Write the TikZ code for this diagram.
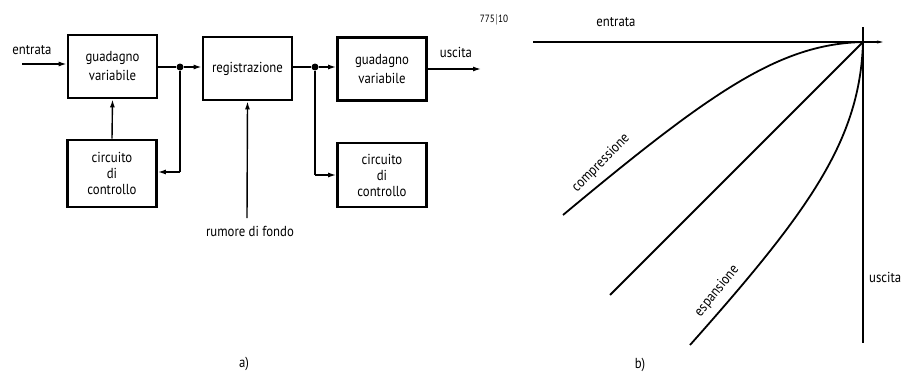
\documentclass[tikz,border=0pt]{standalone}
\usepackage{fontspec}
\setmainfont{PT Sans}[FakeStretch=0.88]
\usetikzlibrary{arrows.meta}
\begin{document}
\begin{tikzpicture}[x=1pt,y=-1pt,
  every node/.style={font=\fontsize{14.5}{16}\selectfont, inner sep=0pt},
  blk/.style={draw, line width=2.8pt, align=center, minimum width=89pt, minimum height=63pt},
  conn/.style={line width=1.4pt},
  arr/.style={conn, -{Latex[length=8pt,width=5pt]}},
  dot/.style={circle, fill, minimum size=7pt},
  curve/.style={line width=1.8pt},
  axis/.style={line width=1.2pt},
  lbl/.style={font=\fontsize{14.5}{16}\selectfont}
]
\useasboundingbox (0,0) rectangle (909,372);
% left diagram
\node[blk] (b1) at (112.5,66.5) {guadagno\\[3pt]variabile};
\node[blk] (b2) at (247.5,68.5) {registrazione};
\node[blk] (b3) at (382,69) {guadagno\\[3pt]variabile};
\node[blk, minimum height=67pt] (b4) at (112,173.5) {circuito\\di\\controllo};
\node[blk, minimum height=64pt] (b5) at (382,175) {circuito\\di\\controllo};

\node[dot] (d1) at (180,67) {};
\node[dot] (d2) at (315,67) {};
\coordinate (in) at (22,64);
\coordinate (out) at (481,69);
\coordinate (f1) at (180,172);
\coordinate (f2) at (315,175);
\coordinate (nz) at (247,218);

\draw[arr] (in) -- (b1.west |- in);
\draw[conn] (b1.east |- d1) -- (d1);
\draw[arr] (d1) -- (b2.west |- d1);
\draw[conn] (d1) -- (f1);
\draw[arr] (f1) -- (b4.east |- f1);
\draw[arr] (b4.north) -- (b1.south);
\draw[arr] (nz) -- (b2.south);
\draw[conn] (b2.east |- d2) -- (d2);
\draw[arr] (d2) -- (b3.west |- d2);
\draw[conn] (d2) -- (f2);
\draw[arr] (f2) -- (b5.west |- f2);
\draw[arr] (b3.east |- out) -- (out);

\node[lbl] (tin) at (32,50) {entrata};
\node[lbl] (tout) at (456,52) {uscita};
\node[lbl, anchor=north] (tnz) at (250,226) {rumore di fondo};
\node[lbl] (ta) at (244,364) {a)};
\node[font=\fontsize{10.5}{12}\selectfont] (num) at (494,20) {775$|$10};

% right diagram
\coordinate (O) at (863,42);
\coordinate (hx0) at (533,42);
\coordinate (hx1) at (883,42);
\coordinate (vy0) at (863,27);
\coordinate (vy1) at (863,343);
\coordinate (cE) at (563,215);
\coordinate (sE) at (610,295);
\coordinate (eE) at (690,345);
\draw[axis, -{Stealth[length=6pt,width=3pt]}] (hx0) -- (hx1);
\draw[axis] (vy0) -- (vy1);
\draw[curve] (O) .. controls (780,44) and (713,90) .. (cE);
\draw[curve] (O) -- (sE);
\draw[curve] (O) .. controls (860,140) and (810,210) .. (eE);

\node[lbl] (tin2) at (616,22) {entrata};
\node[lbl, anchor=west] (tout2) at (869,277) {uscita};
\node[lbl, rotate=45] (tc) at (601,163) {compressione};
\node[lbl, rotate=51] (te) at (717,291) {espansione};
\node[lbl] (tb) at (640,365) {b)};
\end{tikzpicture}
\end{document}
